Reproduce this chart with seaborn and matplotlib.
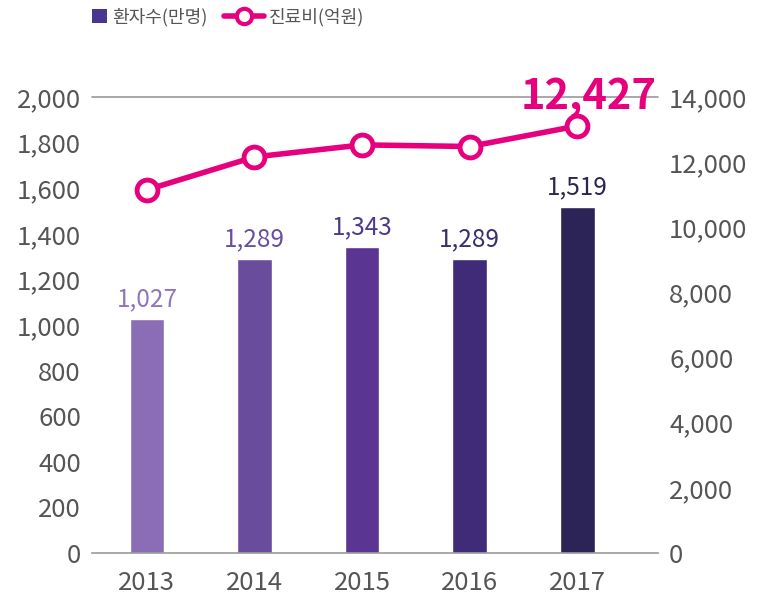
import numpy as np
import pandas as pd
import matplotlib.pyplot as plt
import seaborn as sns
from matplotlib.patches import Patch
from matplotlib.lines import Line2D
from matplotlib.ticker import FuncFormatter

years = ['2013', '2014', '2015', '2016', '2017']
patients = [1027, 1289, 1343, 1289, 1519]          # 환자수(만명)
costs = [11150, 12160, 12530, 12480, 13110]         # 진료비(억원)
cost_label = '12,427'
bar_colors = ['#8B6DB5', '#6A4C9C', '#5A3591', '#3F2B78', '#2C2456']
label_colors = ['#8F76B9', '#6A4FA0', '#4E3A89', '#3A2F6E', '#2A2650']
pink = '#E6007E'
grey = '#555555'

sns.set_theme(style='white')
plt.rcParams['font.family'] = ['Noto Sans CJK KR', 'DejaVu Sans']

df = pd.DataFrame({'year': years, 'patients': patients, 'cost': costs})

fig = plt.figure(figsize=(7.57, 6.05), dpi=100)
ax = fig.add_axes([92 / 757, 1 - 553 / 605, 566 / 757, 456 / 605])

sns.barplot(data=df, x='year', y='patients', hue='year', palette=bar_colors,
            width=0.32, legend=False, ax=ax, saturation=1)
ax.set_xlim(-0.51, 4.75)
ax.set_ylim(0, 2000)
ax.set_yticks(range(0, 2001, 200))
ax.yaxis.set_major_formatter(FuncFormatter(lambda v, p: f'{int(v):,}'))
ax.set_xlabel('')
ax.set_ylabel('')
ax.axhline(2000, color='#999999', lw=1.2, clip_on=False)
for s in ['top', 'left', 'right']:
    ax.spines[s].set_visible(False)
ax.spines['bottom'].set_color('#999999')
ax.spines['bottom'].set_linewidth(1.2)
ax.tick_params(axis='y', length=0, pad=8, labelsize=18.5, labelcolor=grey)
ax.tick_params(axis='x', length=0, pad=12, labelsize=18.5, labelcolor=grey)

for i, v in enumerate(patients):
    ax.text(i, v + 30, f'{v:,}', ha='center', va='bottom', fontsize=17.5,
            color=label_colors[i])

ax2 = ax.twinx()
sns.lineplot(x=np.arange(len(years)), y=costs, ax=ax2, color=pink, lw=4,
             marker='o', markersize=15, markerfacecolor='white',
             markeredgecolor=pink, markeredgewidth=3.5)
ax2.set_ylim(0, 14000)
ax2.set_yticks(range(0, 14001, 2000))
ax2.yaxis.set_major_formatter(FuncFormatter(lambda v, p: f'{int(v):,}'))
for s in ['top', 'left', 'right', 'bottom']:
    ax2.spines[s].set_visible(False)
ax2.tick_params(axis='y', length=0, pad=8, labelsize=18.5, labelcolor=grey)
ax2.annotate(cost_label, xy=(4, costs[-1]), xytext=(8, 6),
             textcoords='offset points', ha='center', va='bottom', fontsize=30,
             fontweight='bold', color=pink)

# legend: purple square and pink line handle, as two pieces
leg1 = fig.legend([Patch(facecolor='#4A3590', edgecolor='none')], ['환자수(만명)'],
                  loc='upper left', bbox_to_anchor=(76 / 757, 1.014), frameon=False,
                  fontsize=13, handlelength=0.8, handleheight=0.8,
                  handletextpad=0.3, labelcolor=grey)
leg2 = fig.legend([Line2D([0], [0], color=pink, lw=4, marker='o', markersize=11,
                          markerfacecolor='white', markeredgecolor=pink,
                          markeredgewidth=3)], ['진료비(억원)'],
                  loc='upper left', bbox_to_anchor=(208 / 757, 1.014), frameon=False,
                  fontsize=13, handlelength=2.2, handletextpad=0.3, labelcolor=grey)

fig.savefig('out.png', dpi=100)
